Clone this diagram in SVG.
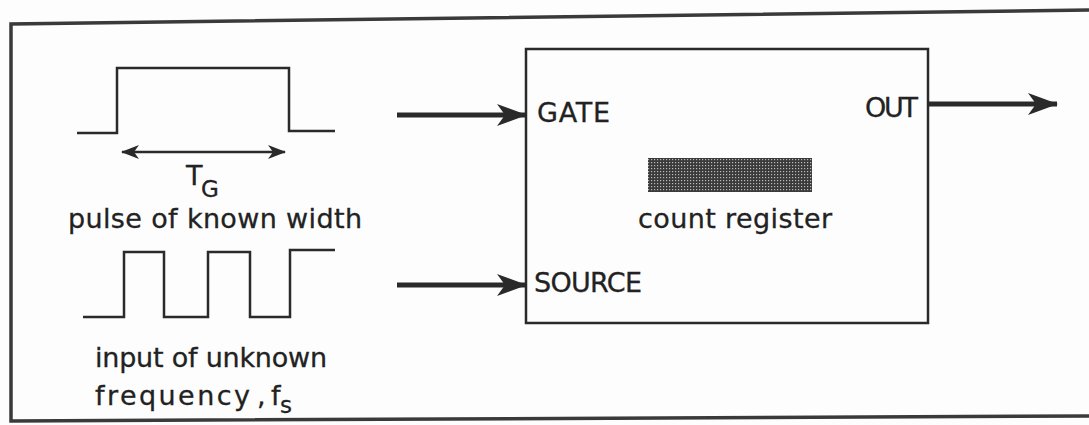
<svg xmlns="http://www.w3.org/2000/svg" width="1089" height="425" viewBox="0 0 1089 425">
<style>
.ln{fill:none;stroke:#2a2a2a;stroke-width:2.5;stroke-linejoin:miter}
.thick{fill:none;stroke:#2a2a2a;stroke-width:5}
.tx{font-family:"DejaVu Sans",sans-serif;font-size:27px;fill:#222;stroke:#222;stroke-width:0.3}
.sub{font-family:"DejaVu Sans",sans-serif;font-size:23px;fill:#222;stroke:#222;stroke-width:0.3}
</style>
<defs>
<marker id="ah" viewBox="0 0 30 24" refX="29" refY="12" markerWidth="30" markerHeight="24" markerUnits="userSpaceOnUse" orient="auto">
<path d="M0,1 L30,12 L0,23 L8,12 Z" fill="#2a2a2a"/>
</marker>
<marker id="sm" viewBox="0 0 18 14" refX="17" refY="7" markerWidth="18" markerHeight="14" markerUnits="userSpaceOnUse" orient="auto-start-reverse">
<path d="M0,0 L18,7 L0,14 L5,7 Z" fill="#2a2a2a"/>
</marker>
<pattern id="dots" width="3" height="3" patternUnits="userSpaceOnUse">
<rect width="3" height="3" fill="#3a3a3a"/>
<rect x="0" y="0" width="1.2" height="1.2" fill="#bbb"/>
</pattern>
</defs>
<rect width="1089" height="425" fill="#fdfdfd"/>
<g id="frame">
<path d="M1089,10 L11,24 L11,421 L1089,416" fill="none" stroke="#3a3a3a" stroke-width="3.5"/>
</g>
<g id="pulse">
<path class="ln" d="M77,133 H117 V68 H289 V131 H335"/>
<line class="ln" x1="122" y1="152" x2="285" y2="152" stroke-width="3" marker-start="url(#sm)" marker-end="url(#sm)"/>
<text class="tx" x="186" y="185">T</text>
<text class="sub" x="201" y="197">G</text>
<text class="tx" x="68" y="228" textLength="294">pulse of known width</text>
</g>
<g id="square">
<path class="ln" d="M83,317 H124 V252 H164 V317 H208 V252 H250 V317 H290 V250 H335"/>
<text class="tx" x="95" y="367" textLength="232">input of unknown</text>
<text class="tx" x="95" y="405" textLength="155">frequency</text>
<text class="tx" x="257" y="405">,</text>
<text class="tx" x="271" y="405">f</text>
<text class="sub" x="280" y="413">s</text>
</g>
<g id="counter">
<rect x="526" y="49" width="402" height="274" fill="none" stroke="#2a2a2a" stroke-width="2.5"/>
<text class="tx" x="537" y="122" textLength="73">GATE</text>
<text class="tx" x="534" y="292" textLength="108">SOURCE</text>
<text class="tx" x="865" y="117" textLength="53">OUT</text>
<rect x="648" y="158" width="164" height="34" fill="url(#dots)"/>
<text class="tx" x="638" y="228" textLength="194">count register</text>
</g>
<g id="connectors">
<line class="thick" x1="397" y1="115" x2="526" y2="115" marker-end="url(#ah)"/>
<line class="thick" x1="397" y1="285" x2="526" y2="285" marker-end="url(#ah)"/>
<line class="thick" x1="929" y1="104" x2="1057" y2="104" marker-end="url(#ah)"/>
</g>
</svg>
